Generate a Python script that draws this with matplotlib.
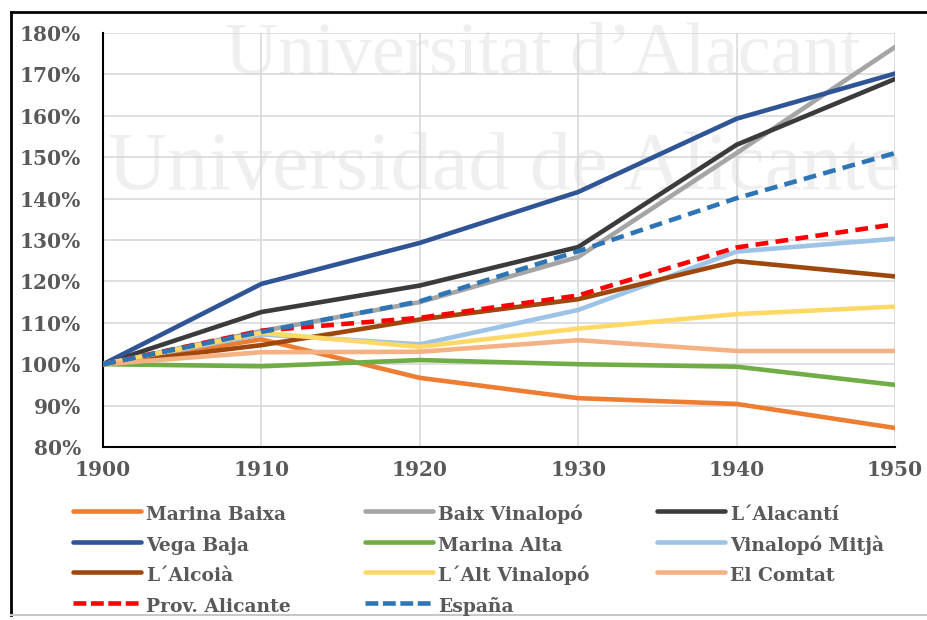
import matplotlib
matplotlib.use("Agg")
import matplotlib.pyplot as plt
from matplotlib.lines import Line2D
from matplotlib.ticker import FuncFormatter

years = [1900, 1910, 1920, 1930, 1940, 1950]

marina_baixa = [100, 106.0, 96.7, 91.8, 90.4, 84.6]
baix_vinalopo = [100, 108.0, 115.0, 125.9, 151.0, 176.6]
alacanti = [100, 112.6, 119.0, 128.3, 153.0, 168.9]
vega_baja = [100, 119.4, 129.3, 141.6, 159.3, 170.2]
marina_alta = [100, 99.5, 101.0, 100.0, 99.4, 95.0]
vinalopo_mitja = [100, 107.2, 104.8, 113.1, 127.2, 130.3]
alcoia = [100, 104.6, 110.8, 115.7, 124.9, 121.2]
alt_vinalopo = [100, 107.6, 104.2, 108.6, 112.1, 113.9]
comtat = [100, 102.9, 103.0, 105.8, 103.2, 103.2]
prov_alicante = [100, 108.1, 111.2, 116.6, 128.2, 133.8]
espana = [100, 107.8, 115.2, 127.3, 140.1, 151.0]

labels = ["Marina Baixa", "Baix Vinalopó", "L´Alacantí", "Vega Baja", "Marina Alta",
          "Vinalopó Mitjà", "L´Alcoià", "L´Alt Vinalopó", "El Comtat",
          "Prov. Alicante", "España"]
series = [marina_baixa, baix_vinalopo, alacanti, vega_baja, marina_alta,
          vinalopo_mitja, alcoia, alt_vinalopo, comtat, prov_alicante, espana]
colors = ["#ED7D31", "#A5A5A5", "#3B3B3B", "#2F5597", "#70AD47",
          "#9DC3E6", "#9E480E", "#FFD966", "#F4B183", "#FF0000", "#2E75B6"]
dashed = [False] * 9 + [True, True]

W, H = 927, 620
fig = plt.figure(figsize=(W / 100, H / 100), dpi=100)
ax = fig.add_axes([103 / W, 1 - 447 / H, (895 - 103) / W, (447 - 33) / H])
ax.set_facecolor("none")
ax.set_zorder(2)

# watermark (behind the axes)
wm_kw = dict(transform=fig.transFigure, family="Liberation Serif", color="#efefef",
             zorder=0, va="baseline")
fig.text(225 / W, 1 - 74 / H, "Universitat d’Alacant", ha="left", fontsize=53, **wm_kw)
fig.text(108 / W, 1 - 189 / H, "Universidad de Alicante", ha="left", fontsize=59, **wm_kw)

lw = 3.3
for y, c, d, lab in zip(series, colors, dashed, labels):
    if d:
        ax.plot(years, y, color=c, lw=lw, dashes=(2.8, 1.6), label=lab,
                solid_capstyle="butt", zorder=3)
    else:
        ax.plot(years, y, color=c, lw=lw, label=lab, solid_joinstyle="round", zorder=3)

ax.set_xlim(1900, 1950)
ax.set_ylim(80, 180)
ax.set_xticks(years)
ax.set_yticks(range(80, 181, 10))
ax.yaxis.set_major_formatter(FuncFormatter(lambda v, p: f"{int(v)}%"))
ax.grid(True, color="#d9d9d9", lw=1.2, zorder=1)
ax.set_axisbelow(True)
for s in ["top", "right"]:
    ax.spines[s].set_visible(False)
for s in ["left", "bottom"]:
    ax.spines[s].set_color("black")
    ax.spines[s].set_linewidth(1.5)
ax.tick_params(length=0, labelcolor="#595959")
for t in ax.get_xticklabels() + ax.get_yticklabels():
    t.set_family("DejaVu Serif")
    t.set_fontweight("bold")
    t.set_fontsize(14.5)
ax.tick_params(axis="y", pad=16)
ax.tick_params(axis="x", pad=9)

# legend in three columns
cols = [[0, 3, 6, 9], [1, 4, 7, 10], [2, 5, 8]]
xstarts = [73, 365, 657]
fs = 13.5
for idx, xs in zip(cols, xstarts):
    hs = []
    for k in idx:
        if dashed[k]:
            hs.append(Line2D([], [], color=colors[k], lw=lw, dashes=(2.8, 1.0)))
        else:
            hs.append(Line2D([], [], color=colors[k], lw=lw, solid_capstyle="round"))
    leg = fig.legend(hs, [labels[k] for k in idx], loc="upper left",
                     bbox_to_anchor=(xs / W, 1 - 502 / H), frameon=False,
                     borderpad=0, borderaxespad=0, handlelength=3.6, handletextpad=0.3,
                     handleheight=1.6, labelspacing=0.34,
                     prop=dict(family="DejaVu Serif", weight="bold", size=fs),
                     labelcolor="#595959")

# outer frame
fig.add_artist(Line2D([11 / W, 11 / W], [1 - 12 / H, 1 - 615 / H], transform=fig.transFigure,
                      color="black", lw=2))
fig.add_artist(Line2D([11 / W, 1], [1 - 12 / H, 1 - 12 / H], transform=fig.transFigure,
                      color="black", lw=2))
fig.add_artist(Line2D([11 / W, 1], [1 - 615 / H, 1 - 615 / H], transform=fig.transFigure,
                      color="#c8c8c8", lw=1.5))

fig.savefig("out.png", dpi=100)
